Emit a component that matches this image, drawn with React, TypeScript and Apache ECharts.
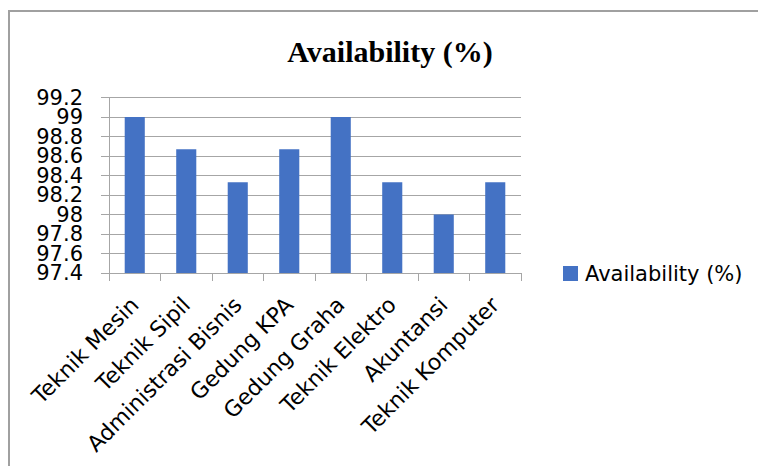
import React, { useEffect, useRef } from "react";
import * as echarts from "echarts";

const categories = [
  "Teknik Mesin",
  "Teknik Sipil",
  "Administrasi Bisnis",
  "Gedung KPA",
  "Gedung Graha",
  "Teknik Elektro",
  "Akuntansi",
  "Teknik Komputer",
];
const availability = [99, 98.67, 98.33, 98.67, 99, 98.33, 98, 98.33];
const seriesName = "Availability (%)";
const chartTitle = "Availability (%)";
const yMin = 97.4;
const yMax = 99.2;
const yStep = 0.2;

export default function App() {
  const ref = useRef<HTMLDivElement>(null);
  useEffect(() => {
    if (!ref.current) return;
    const chart = echarts.init(ref.current, null, { renderer: "svg" });
    const sans = "DejaVu Sans";
    const fmt = (v: number) => String(parseFloat(v.toFixed(1)));
    const idx = (v: number) => Math.round((v - yMin) / yStep);
    const labelStyle = {
      margin: 26,
      showMinLabel: true,
      showMaxLabel: true,
      fontFamily: sans,
      fontSize: 21,
      color: "#000000",
    };
    chart.setOption({
      animation: false,
      backgroundColor: "#ffffff",
      title: {
        text: chartTitle,
        left: 385,
        top: 31,
        textAlign: "center",
        textStyle: {
          fontFamily: "Liberation Serif",
          fontWeight: "bold",
          fontSize: 30,
          color: "#000000",
        },
      },
      graphic: [
        {
          type: "rect",
          shape: { x: 9, y: 11, width: 820, height: 520 },
          style: { fill: "none", stroke: "#a0a0a0", lineWidth: 2 },
          silent: true,
        },
      ],
      legend: {
        left: 558,
        top: 258,
        icon: "rect",
        itemWidth: 15,
        itemHeight: 15,
        itemGap: 8,
        textStyle: { fontFamily: sans, fontSize: 21, color: "#000000", padding: [0, 0, 0, 2] },
        data: [seriesName],
      },
      grid: { left: 109, right: 237, top: 97.5, bottom: 193, containLabel: false },
      xAxis: {
        type: "category",
        data: categories,
        axisLine: { lineStyle: { color: "#a6a6a6", width: 1 } },
        axisTick: { show: true, length: 8, lineStyle: { color: "#a6a6a6" }, alignWithLabel: false },
        axisLabel: {
          interval: 0,
          rotate: 45,
          margin: 28,
          fontFamily: sans,
          fontSize: 22,
          color: "#000000",
        },
      },
      yAxis: [
        {
          type: "value",
          position: "left",
          min: yMin,
          max: yMax,
          interval: yStep,
          axisLine: { show: true, lineStyle: { color: "#a6a6a6", width: 1 } },
          axisTick: { show: true, length: 8, lineStyle: { color: "#a6a6a6" } },
          splitLine: { show: true, lineStyle: { color: "#a6a6a6", width: 1 } },
          axisLabel: {
            ...labelStyle,
            formatter: (v: number) => (idx(v) % 2 === 0 ? fmt(v) : ""),
          },
        },
        {
          type: "value",
          position: "left",
          offset: 0,
          min: yMin,
          max: yMax,
          interval: yStep,
          axisLine: { show: false },
          axisTick: { show: false },
          splitLine: { show: false },
          axisLabel: {
            ...labelStyle,
            formatter: (v: number) => (idx(v) % 2 === 1 ? fmt(v) : ""),
          },
        },
      ],
      series: [
        {
          name: seriesName,
          type: "bar",
          yAxisIndex: 0,
          data: availability,
          barWidth: "39%",
          itemStyle: { color: "#4472C4" },
        },
      ],
    });
    return () => chart.dispose();
  }, []);
  return (
    <div
      ref={ref}
      style={{ position: "fixed", left: 0, top: 0, width: 758, height: 466 }}
    />
  );
}
